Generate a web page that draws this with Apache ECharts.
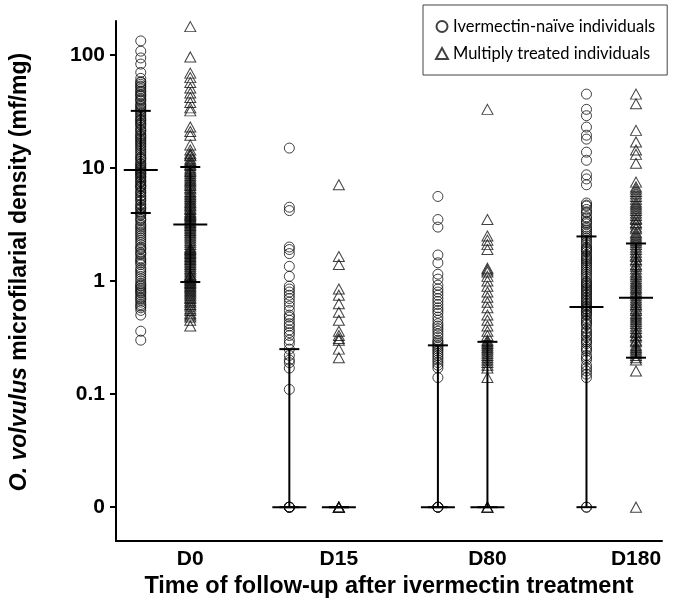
<!DOCTYPE html>
<html>
<head>
<meta charset="utf-8">
<title>Microfilarial density by follow-up time</title>
<script src="https://cdn.jsdelivr.net/npm/echarts@6/dist/echarts.min.js"></script>
<style>
  html, body { margin: 0; padding: 0; background: #fff; }
  #chart { width: 673px; height: 604px; }
</style>
</head>
<body>
<div id="chart"></div>
<script>
const categories = ['D0', 'D15', 'D80', 'D180'];
const yTicks = [0, 0.1, 1, 10, 100];

// ivermectin-naive individuals (mf/mg), one list per visit
const naiveD0 = [133, 108, 94, 83, 70, 62, 58, 57, 55, 53, 52, 50, 48, 47, 45, 44, 43, 41, 40, 39, 37, 36, 35, 34, 33, 32, 31, 30, 29, 28, 27, 26.5, 26, 25, 24.5, 24, 23, 22, 21.5, 21, 20, 19.5, 19, 18.5, 18, 17.5, 17, 16.5, 16, 15.5, 15, 14.5, 14, 13.5, 13, 12.5, 12.2, 12, 11.5, 11, 10.8, 10.5, 10.2, 10, 9.8, 9.6, 9.4, 9.2, 9, 8.9, 8.7, 8.4, 8.3, 8.1, 7.8, 7.6, 7.5, 7.2, 7, 6.9, 6.8, 6.6, 6.3, 6.1, 6, 5.7, 5.6, 5.4, 5.2, 5.1, 4.8, 4.7, 4.5, 4.4, 4.3, 4.1, 4.0, 3.9, 3.8, 3.6, 3.5, 3.4, 3.2, 3.1, 3.0, 2.9, 2.8, 2.7, 2.6, 2.5, 2.4, 2.3, 2.2, 2.1, 2.0, 1.95, 1.9, 1.8, 1.75, 1.7, 1.6, 1.55, 1.5, 1.45, 1.4, 1.3, 1.25, 1.2, 1.15, 1.1, 1.05, 1.0, 0.95, 0.92, 0.9, 0.87, 0.85, 0.82, 0.8, 0.78, 0.75, 0.72, 0.7, 0.68, 0.65, 0.62, 0.6, 0.58, 0.55, 0.5, 0.36, 0.30];
const naiveD15 = [15, 4.5, 4.2, 2.0, 1.9, 1.75, 1.35, 1.1, 0.9, 0.85, 0.8, 0.75, 0.7, 0.65, 0.6, 0.55, 0.5, 0.48, 0.45, 0.42, 0.4, 0.37, 0.35, 0.33, 0.3, 0.28, 0.25, 0.22, 0.2, 0.19, 0.17, 0.11, 0, 0, 0, 0, 0];
const naiveD80 = [5.6, 3.5, 3.0, 1.7, 1.45, 1.15, 1.04, 0.92, 0.85, 0.8, 0.75, 0.7, 0.66, 0.62, 0.58, 0.55, 0.52, 0.48, 0.45, 0.42, 0.4, 0.38, 0.36, 0.34, 0.32, 0.3, 0.29, 0.28, 0.27, 0.26, 0.25, 0.24, 0.23, 0.22, 0.21, 0.2, 0.19, 0.18, 0.17, 0.14, 0, 0, 0, 0];
const naiveD180 = [45, 33, 29, 23, 19.5, 18, 13.8, 11.7, 8.7, 8, 7.1, 4.9, 4.7, 4.6, 4.3, 4.1, 4, 3.7, 3.6, 3.4, 3.3, 3.2, 3.0, 2.9, 2.8, 2.7, 2.6, 2.5, 2.4, 2.3, 2.2, 2.1, 2.0, 1.95, 1.9, 1.85, 1.8, 1.7, 1.65, 1.6, 1.55, 1.5, 1.45, 1.4, 1.35, 1.3, 1.25, 1.2, 1.15, 1.1, 1.05, 1.0, 0.97, 0.95, 0.92, 0.9, 0.87, 0.85, 0.82, 0.8, 0.77, 0.75, 0.72, 0.7, 0.68, 0.66, 0.64, 0.62, 0.6, 0.59, 0.57, 0.56, 0.54, 0.53, 0.51, 0.5, 0.47, 0.45, 0.44, 0.42, 0.41, 0.38, 0.36, 0.35, 0.33, 0.32, 0.3, 0.29, 0.28, 0.26, 0.25, 0.24, 0.22, 0.21, 0.2, 0.18, 0.17, 0.16, 0.15, 0.14, 0, 0];

// multiply treated individuals
const treatedD0 = [178, 96, 69, 63, 57, 51, 46, 42, 38, 34, 32, 23, 21, 19.5, 16, 14.4, 13.5, 13, 12.8, 12, 11.6, 11.2, 10.8, 10.5, 10, 9.6, 9.3, 9, 8.6, 8.3, 8, 7.7, 7.5, 7.2, 7, 6.7, 6.5, 6.2, 6, 5.8, 5.6, 5.4, 5.2, 5, 4.9, 4.7, 4.6, 4.4, 4.3, 4.1, 4, 3.9, 3.8, 3.7, 3.6, 3.5, 3.4, 3.3, 3.2, 3.1, 3.0, 2.9, 2.8, 2.7, 2.6, 2.5, 2.4, 2.3, 2.2, 2.1, 2.0, 1.95, 1.9, 1.85, 1.8, 1.75, 1.7, 1.65, 1.6, 1.55, 1.5, 1.45, 1.4, 1.35, 1.3, 1.25, 1.2, 1.15, 1.12, 1.1, 1.05, 1.02, 1.0, 0.97, 0.95, 0.92, 0.9, 0.87, 0.85, 0.82, 0.8, 0.77, 0.75, 0.72, 0.7, 0.67, 0.65, 0.62, 0.6, 0.57, 0.55, 0.52, 0.5, 0.48, 0.45, 0.40];
const treatedD15 = [7.1, 1.65, 1.4, 0.85, 0.75, 0.63, 0.53, 0.45, 0.36, 0.33, 0.31, 0.3, 0.25, 0.21, 0, 0, 0, 0, 0];
const treatedD80 = [33, 3.5, 2.5, 2.3, 2.1, 1.9, 1.3, 1.25, 1.2, 1.1, 1.0, 0.9, 0.8, 0.72, 0.65, 0.58, 0.5, 0.45, 0.4, 0.36, 0.33, 0.3, 0.29, 0.28, 0.27, 0.26, 0.25, 0.24, 0.23, 0.22, 0.21, 0.2, 0.19, 0.18, 0.17, 0.14, 0, 0, 0];
const treatedD180 = [45, 37, 21.5, 17, 14.4, 13.2, 11, 7.5, 6.8, 6.5, 6.2, 5.9, 5.6, 5.3, 5, 4.8, 4.6, 4.4, 4.2, 4.0, 3.8, 3.6, 3.5, 3.3, 3.2, 3.0, 2.9, 2.7, 2.6, 2.5, 2.4, 2.3, 2.2, 2.1, 2.0, 1.9, 1.8, 1.7, 1.65, 1.55, 1.5, 1.4, 1.35, 1.28, 1.2, 1.15, 1.1, 1.05, 1.0, 0.96, 0.92, 0.88, 0.85, 0.81, 0.78, 0.75, 0.71, 0.68, 0.65, 0.62, 0.6, 0.57, 0.55, 0.52, 0.5, 0.48, 0.46, 0.44, 0.42, 0.4, 0.38, 0.36, 0.35, 0.33, 0.32, 0.3, 0.29, 0.27, 0.26, 0.25, 0.24, 0.23, 0.22, 0.21, 0.2, 0.16, 0];

// median and interquartile range per visit
const naiveQ1 = [4.0, 0, 0, 0];
const naiveMedian = [9.6, 0, 0, 0.59];
const naiveQ3 = [32, 0.25, 0.27, 2.48];
const treatedQ1 = [0.98, 0, 0, 0.21];
const treatedMedian = [3.16, 0, 0, 0.71];
const treatedQ3 = [10.2, 0, 0.29, 2.15];

const naiveGroups = [naiveD0, naiveD15, naiveD80, naiveD180];
const treatedGroups = [treatedD0, treatedD15, treatedD80, treatedD180];

// zero is drawn one decade below 0.1
function toLog(v) {
  return v === 0 ? -2 : Math.log10(v);
}

const naiveOffset = -1 / 3;

function pointsOf(groups, offset) {
  const out = [];
  groups.forEach(function (vals, i) {
    vals.forEach(function (v) {
      out.push([i + offset, toLog(v)]);
    });
  });
  return out;
}

const statsData = [];
for (let i = 0; i < categories.length; i++) {
  statsData.push([i + naiveOffset, toLog(naiveQ1[i]), toLog(naiveMedian[i]), toLog(naiveQ3[i])]);
  statsData.push([i, toLog(treatedQ1[i]), toLog(treatedMedian[i]), toLog(treatedQ3[i])]);
}

const font = "'Liberation Sans', Arial, sans-serif";
const tickPos = yTicks.map(toLog);

const chart = echarts.init(document.getElementById('chart'));
chart.setOption({
  animation: false,
  textStyle: { fontFamily: font },
  grid: { left: 112, right: 11, top: 21, bottom: 61 },
  legend: {
    orient: 'vertical',
    left: 423,
    top: 5,
    padding: [13, 12, 13, 12],
    itemGap: 10,
    itemWidth: 12,
    itemHeight: 11,
    borderColor: '#444',
    borderWidth: 1,
    textStyle: { fontFamily: 'Lato', fontSize: 16.5, color: '#000' },
    data: ['Ivermectin-naïve individuals', 'Multiply treated individuals']
  },
  xAxis: {
    type: 'value',
    min: -0.5,
    max: 3.175,
    name: 'Time of follow-up after ivermectin treatment',
    nameLocation: 'middle',
    nameGap: 31,
    nameTextStyle: { fontSize: 23.5, fontWeight: 'bold', color: '#000', fontFamily: font },
    axisLine: { onZero: false, lineStyle: { color: '#000', width: 2 } },
    axisTick: { show: false },
    splitLine: { show: false },
    axisLabel: {
      customValues: [0, 1, 2, 3],
      margin: 8,
      fontSize: 21,
      fontWeight: 'bold',
      color: '#000',
      formatter: function (v) { return categories[Math.round(v)]; }
    }
  },
  yAxis: {
    type: 'value',
    min: -2.3,
    max: 2.3,
    name: '{it|O. volvulus} microfilarial density (mf/mg)',
    nameLocation: 'middle',
    nameGap: 85,
    nameTextStyle: {
      fontSize: 23, fontWeight: 'bold', color: '#000', fontFamily: font,
      padding: [0, 0, 0, 18],
      rich: { it: { fontSize: 23, fontWeight: 'bold', fontStyle: 'italic', color: '#000', fontFamily: font } }
    },
    axisLine: { show: true, onZero: false, lineStyle: { color: '#000', width: 2 } },
    axisTick: { show: true, customValues: tickPos, length: 6, lineStyle: { color: '#000', width: 2 } },
    splitLine: { show: false },
    axisLabel: {
      customValues: tickPos,
      margin: 11,
      fontSize: 21,
      fontWeight: 'bold',
      color: '#000',
      formatter: function (v) {
        for (let k = 0; k < tickPos.length; k++) {
          if (Math.abs(tickPos[k] - v) < 1e-6) return String(yTicks[k]);
        }
        return '';
      }
    }
  },
  series: [
    {
      name: 'Ivermectin-naïve individuals',
      type: 'scatter',
      symbol: 'circle',
      symbolSize: 10,
      itemStyle: { color: 'rgba(0,0,0,0)', borderColor: '#111', borderWidth: 1 },
      data: pointsOf(naiveGroups, naiveOffset)
    },
    {
      name: 'Multiply treated individuals',
      type: 'scatter',
      symbol: 'triangle',
      symbolSize: [11, 10],
      itemStyle: { color: 'rgba(0,0,0,0)', borderColor: '#111', borderWidth: 1 },
      data: pointsOf(treatedGroups, 0)
    },
    {
      type: 'custom',
      z: 5,
      encode: { x: 0, y: [1, 2, 3] },
      renderItem: function (params, api) {
        const x = api.value(0);
        const lo = api.coord([x, api.value(1)]);
        const md = api.coord([x, api.value(2)]);
        const hi = api.coord([x, api.value(3)]);
        const st = { stroke: '#000', lineWidth: 2 };
        return {
          type: 'group',
          children: [
            { type: 'line', shape: { x1: lo[0], y1: lo[1], x2: hi[0], y2: hi[1] }, style: st },
            { type: 'line', shape: { x1: lo[0] - 10, y1: lo[1], x2: lo[0] + 10, y2: lo[1] }, style: st },
            { type: 'line', shape: { x1: hi[0] - 10, y1: hi[1], x2: hi[0] + 10, y2: hi[1] }, style: st },
            { type: 'line', shape: { x1: md[0] - 17, y1: md[1], x2: md[0] + 17, y2: md[1] }, style: st }
          ]
        };
      },
      data: statsData
    }
  ]
});
</script>
</body>
</html>
